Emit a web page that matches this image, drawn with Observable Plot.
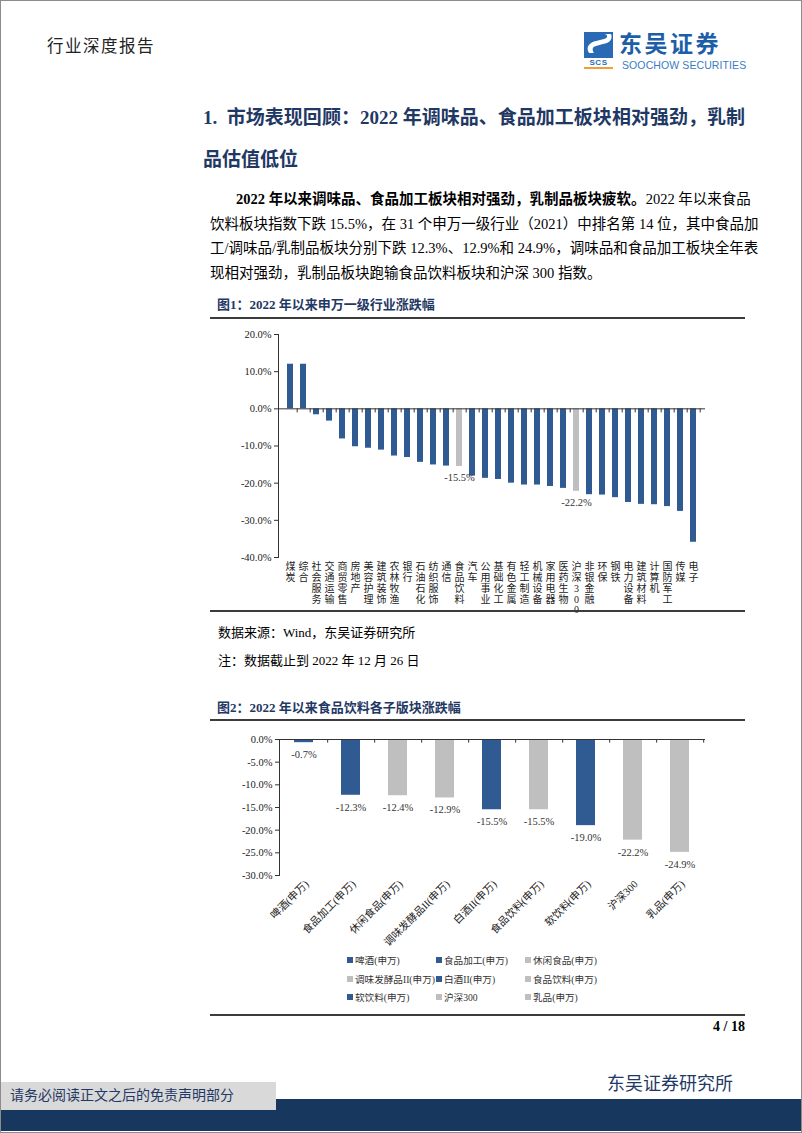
<!DOCTYPE html>
<html><head><meta charset="utf-8">
<script src="https://cdn.jsdelivr.net/npm/d3@7"></script>
<script src="https://cdn.jsdelivr.net/npm/@observablehq/plot@0.6"></script>
<style>
html,body{margin:0;padding:0;background:#fff;}
#page{position:relative;width:802px;height:1133px;overflow:hidden;font-family:"Liberation Serif","Noto Sans CJK SC",serif;color:#000;}
.t{position:absolute;white-space:nowrap;line-height:1.2;transform:translateY(-50%);}
.rule{position:absolute;left:210px;width:535px;height:2px;background:#3c3c3c;}
.navy{color:#1f3864;}
.just{text-align:justify;text-align-last:justify;}
#border{position:absolute;left:0;top:0;right:0;bottom:0;border:1px solid #8c8c8c;pointer-events:none;}
.leg{position:absolute;white-space:nowrap;font-size:9.6px;color:#333;line-height:12px;transform:translateY(-50%);}
.sw{display:inline-block;width:6px;height:6px;margin-right:2px;vertical-align:1px;}
</style></head>
<body>
<div id="page">
  <div class="t" style="left:47px;top:47px;font-size:16.5px;color:#222;letter-spacing:1.5px;">行业深度报告</div>
  <svg style="position:absolute;left:584px;top:32px;" width="30" height="38" viewBox="0 0 30 38">
    <rect x="0" y="0" width="29" height="26" fill="#2a6ab5"/>
    <path d="M5,21 C1,15 6,10 12,9 L20,7 C24,6 24,3 21,2 L27,2 C29,7 26,11 19,12 L12,14 C8,15 8,18 10,21 Z" fill="#fff"/>
    <text x="14.5" y="33" text-anchor="middle" font-family="Liberation Sans" font-weight="bold" font-size="8" fill="#2a6ab5" letter-spacing="0.5">SCS</text>
    <rect x="0" y="35" width="29" height="2" fill="#f0a030"/>
  </svg>
  <div class="t" style="left:619px;top:41.5px;font-size:23px;line-height:22px;font-weight:bold;color:#1d5ea9;font-family:'Noto Sans CJK SC';letter-spacing:2.5px;">东吴证券</div>
  <div class="t" style="left:622px;top:65px;font-size:10.5px;line-height:9px;color:#3a7cc1;font-family:'Liberation Sans Narrow','Liberation Sans';letter-spacing:0.1px;">SOOCHOW SECURITIES</div>

  <div class="t navy just" style="left:203px;top:118px;width:542px;font-size:19px;font-weight:bold;">1.&nbsp;&nbsp;市场表现回顾：2022 年调味品、食品加工板块相对强劲，乳制</div>
  <div class="t navy" style="left:203px;top:160px;font-size:19px;font-weight:bold;">品估值低位</div>

  <div class="t just" style="left:236px;top:200px;width:509px;font-size:14.5px;"><b>2022 年以来调味品、食品加工板块相对强劲，乳制品板块疲软。</b>2022 年以来食品</div>
  <div class="t just" style="left:210px;top:224.5px;width:535px;font-size:14.5px;">饮料板块指数下跌 15.5%，在 31 个申万一级行业（2021）中排名第 14 位，其中食品加</div>
  <div class="t just" style="left:210px;top:249px;width:535px;font-size:14.5px;">工/调味品/乳制品板块分别下跌 12.3%、12.9%和 24.9%，调味品和食品加工板块全年表</div>
  <div class="t" style="left:210px;top:273.5px;font-size:14.5px;">现相对强劲，乳制品板块跑输食品饮料板块和沪深 300 指数。</div>

  <div class="t navy" style="left:217px;top:305px;font-size:13px;font-weight:bold;">图1：2022 年以来申万一级行业涨跌幅</div>
  <div class="rule" style="top:317px;"></div>
  <div id="chart1" style="position:absolute;left:210px;top:320px;"></div>
  <div class="rule" style="top:610px;"></div>

  <div class="t" style="left:218px;top:633px;font-size:13px;">数据来源：Wind，东吴证券研究所</div>
  <div class="t" style="left:218px;top:661px;font-size:13px;">注：数据截止到 2022 年 12 月 26 日</div>

  <div class="t navy" style="left:217px;top:708px;font-size:13px;font-weight:bold;">图2：2022 年以来食品饮料各子版块涨跌幅</div>
  <div class="rule" style="top:719px;"></div>
  <div id="chart2" style="position:absolute;left:210px;top:725px;"></div>
  <div id="legend"></div>
  <div class="rule" style="top:1014px;"></div>

  <div class="t" style="right:57px;top:1027px;font-size:14px;font-weight:bold;">4 / 18</div>
  <div class="t navy" style="left:607px;top:1085px;font-size:18px;">东吴证券研究所</div>
  <div style="position:absolute;left:0;top:1099px;width:802px;height:32px;background:#17375e;"></div>
  <div style="position:absolute;left:0;top:1082px;width:276px;height:28px;background:#d9d9d9;"></div>
  <div class="t navy" style="left:10px;top:1096px;font-size:14px;">请务必阅读正文之后的免责声明部分</div>
  <div id="border"></div>
</div>
<script>
const blue = "#2f5a92", gray = "#bfbfbf";
const font = '"Liberation Serif","Noto Sans CJK SC",serif';

// ---- Chart 1 data ----
const cats1 = ["煤炭","综合","社会服务","交通运输","商贸零售","房地产","美容护理","建筑装饰","农林牧渔","银行","石油石化","纺织服饰","通信","食品饮料","汽车","公用事业","基础化工","有色金属","轻工制造","机械设备","家用电器","医药生物","沪深300","非银金融","环保","钢铁","电力设备","建筑材料","计算机","国防军工","传媒","电子"];
const vals1 = [12.0,12.0,-1.6,-3.3,-8.1,-10.2,-10.6,-11.1,-12.7,-13.1,-14.4,-15.1,-15.4,-15.5,-18.1,-18.7,-19.0,-20.0,-20.5,-20.5,-20.9,-21.4,-22.2,-23.1,-23.2,-23.9,-25.2,-25.7,-25.8,-26.3,-27.6,-35.9];
const gray1 = ["食品饮料","沪深300"];
const ticks1 = [20,10,0,-10,-20,-30,-40];

// ---- Chart 2 data ----
const cats2 = ["啤酒(申万)","食品加工(申万)","休闲食品(申万)","调味发酵品II(申万)","白酒II(申万)","食品饮料(申万)","软饮料(申万)","沪深300","乳品(申万)"];
const vals2 = [-0.7,-12.3,-12.4,-12.9,-15.5,-15.5,-19.0,-22.2,-24.9];
const blue2 = ["啤酒(申万)","食品加工(申万)","白酒II(申万)","软饮料(申万)"];
const ticks2 = [0,-5,-10,-15,-20,-25,-30];

const pct = d => d.toFixed(1) + "%";
const stack = s => Array.from(s).join("\n");

const data1 = cats1.map((c, i) => ({cat: c, v: vals1[i], g: gray1.includes(c) ? "g" : "b"}));
const W1 = 535, ML1 = 68, MR1 = 40;
const step1 = (W1 - ML1 - MR1) / cats1.length;
const p1 = Plot.plot({
  width: W1, height: 300,
  marginLeft: ML1, marginRight: MR1, marginTop: 14, marginBottom: 63,
  style: {fontFamily: font, fontSize: "10.5px", color: "#222", background: "transparent", overflow: "visible"},
  x: {domain: cats1, paddingInner: 0.53, paddingOuter: 0.265, axis: null},
  y: {domain: [-40, 20], axis: null},
  color: {domain: ["b", "g"], range: [blue, gray]},
  marks: [
    Plot.barY(data1, {x: "cat", y: "v", fill: "g"}),
    Plot.ruleY([0], {stroke: "#333", strokeWidth: 1}),
    Plot.ruleX(cats1, {x: d => d, y1: 0, y2: -1.1, dx: step1 / 2, stroke: "#333"}),
    Plot.frame({anchor: "left", stroke: "#333"}),
    Plot.axisY({ticks: ticks1, tickFormat: pct, tickSize: 4, tickPadding: 3, stroke: "#333", fill: "#222", fontSize: 10.5, label: null}),
    Plot.axisX({tickSize: 0, tickPadding: 5, tickFormat: stack, lineHeight: 1.08, fontSize: 10, fill: "#222", label: null}),
    Plot.text(data1.filter(d => d.g === "g"), {x: "cat", y: "v", text: d => pct(d.v), dy: 11, fill: "#333", fontSize: 10.5})
  ]
});
document.getElementById("chart1").appendChild(p1);

const data2 = cats2.map((c, i) => ({cat: c, v: vals2[i], g: blue2.includes(c) ? "b" : "g"}));
const W2 = 535, ML2 = 69, MR2 = 40;
const step2 = (W2 - ML2 - MR2) / cats2.length;
const p2 = Plot.plot({
  width: W2, height: 225,
  marginLeft: ML2, marginRight: MR2, marginTop: 14, marginBottom: 75,
  style: {fontFamily: font, fontSize: "10.5px", color: "#222", background: "transparent", overflow: "visible"},
  x: {domain: cats2, paddingInner: 0.59, paddingOuter: 0.295, axis: null},
  y: {domain: [-30, 0], axis: null},
  color: {domain: ["b", "g"], range: [blue, gray]},
  marks: [
    Plot.barY(data2, {x: "cat", y: "v", fill: "g"}),
    Plot.ruleY([0], {stroke: "#333", strokeWidth: 1}),
    Plot.ruleX(cats2, {x: d => d, y1: 0, y2: -0.8, dx: step2 / 2, stroke: "#333"}),
    Plot.frame({anchor: "left", stroke: "#333"}),
    Plot.axisY({ticks: ticks2, tickFormat: pct, tickSize: 4, tickPadding: 3, stroke: "#333", fill: "#222", fontSize: 10.5, label: null}),
    Plot.axisX({tickSize: 0, tickPadding: 7, tickRotate: -45, dx: 3, fontSize: 10.5, fill: "#222", label: null}),
    Plot.text(data2, {x: "cat", y: "v", text: d => pct(d.v), dy: 12, fill: "#333", fontSize: 10.5})
  ]
});
document.getElementById("chart2").appendChild(p2);

// legend (HTML, below chart 2)
const leg = d3.select("#legend");
const colX = [347, 436, 525], rowY = [961, 980, 998];
data2.forEach((d, i) => {
  const item = leg.append("div").attr("class", "leg")
    .style("left", colX[i % 3] + "px").style("top", rowY[Math.floor(i / 3)] + "px");
  item.append("span").attr("class", "sw").style("background", d.g === "b" ? blue : gray);
  item.append("span").text(d.cat);
});
</script>
</body></html>
